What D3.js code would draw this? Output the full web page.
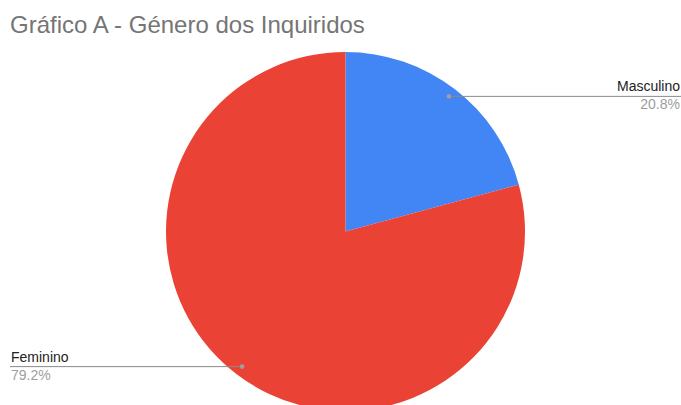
<!DOCTYPE html>
<html><head><meta charset="utf-8">
<script src="https://cdn.jsdelivr.net/npm/d3@7"></script>
<style>body{margin:0;background:#fff}svg{display:block}</style>
</head><body>
<script>
const categories = ["Masculino", "Feminino"];
const values = [20.8, 79.2];
const colors = ["#4285F4", "#EA4335"];
const title = "Gráfico A - Género dos Inquiridos";

const W = 681, H = 405;
const FONT = "Arial, 'Liberation Sans', sans-serif";
const svg = d3.select("body").append("svg").attr("width", W).attr("height", H);
svg.append("text").attr("x", 10).attr("y", 33).text(title)
  .attr("font-family", FONT).attr("font-size", 24).attr("fill", "#757575");

const cx = 345.5, cy = 231.5, r = 179.5;
const data = categories.map((c, i) => ({c, v: values[i], col: colors[i]}));
const pie = d3.pie().value(d => d.v).sort(null);
const arcs = pie(data);
const arc = d3.arc().innerRadius(0).outerRadius(r);
const g = svg.append("g").attr("transform", `translate(${cx},${cy})`);
g.selectAll("path").data(arcs).join("path").attr("d", arc).attr("fill", d => d.data.col);

const inner = d3.arc().innerRadius(r * 0.948).outerRadius(r * 0.948);
arcs.forEach((a, i) => {
  const [px, py] = inner.centroid(a);
  const x = cx + px, y = cy + py;
  const right = x > cx;
  const x2 = right ? 681 : 10;
  svg.append("line").attr("x1", x).attr("y1", y).attr("x2", x2).attr("y2", y)
    .attr("stroke", "#8a8a8a").attr("stroke-width", 1);
  svg.append("circle").attr("cx", x).attr("cy", y).attr("r", 2.3).attr("fill", "#9e9e9e");
  const tx = right ? 680 : 11;
  const anchor = right ? "end" : "start";
  svg.append("text").attr("x", tx).attr("y", y - 5).attr("text-anchor", anchor)
    .attr("font-family", FONT).attr("font-size", 14).attr("fill", "#222")
    .text(a.data.c);
  svg.append("text").attr("x", tx).attr("y", y + 13).attr("text-anchor", anchor)
    .attr("font-family", FONT).attr("font-size", 14).attr("fill", "#9e9e9e")
    .text(d3.format(".1f")(a.data.v) + "%");
});
</script>
</body></html>
